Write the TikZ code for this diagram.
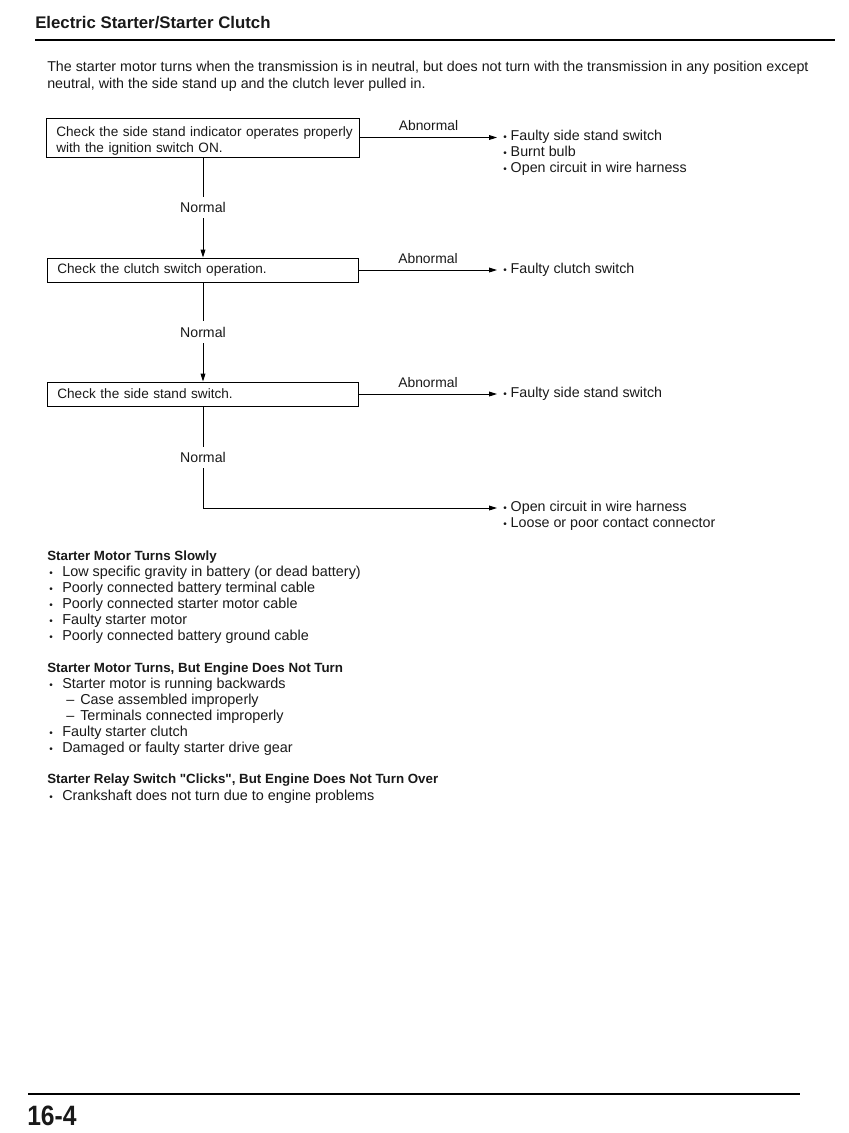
\documentclass[tikz,border=0pt]{standalone}
\usepackage{graphicx}
\usepackage{fontspec}
\setmainfont{Liberation Sans}
\newfontfamily\qfont[Ligatures=TeXOff]{Liberation Sans}
\usetikzlibrary{arrows.meta}
\newcommand\bu{{\fontsize{7.5}{7.5}\selectfont\textbullet}}
\newcommand\lbu{\makebox[9.75pt][l]{\bu}}
\newcommand\ldash{\makebox[10.5pt][l]{–}}
\newcommand\ind{\hspace*{7.4pt}}
\begin{document}
\begin{tikzpicture}[x=0.75pt,y=-0.75pt,
  every node/.style={font=\fontsize{10.7}{12}\selectfont, inner sep=0pt, text=black!90},
  txt/.style={anchor=base west},
  head/.style={anchor=base west, font=\fontsize{10}{12}\selectfont\bfseries},
  box/.style={draw, line width=0.7pt, align=left, inner xsep=0pt, inner ysep=0pt, anchor=center,
    font=\fontsize{10.2}{12}\selectfont},
  res/.style={anchor=west, inner xsep=4.5pt, inner ysep=0pt, text height=7.5pt, text depth=2.4pt},
  conn/.style={line width=0.75pt},
  arr/.style={conn, -{Triangle[length=6pt,width=3.6pt]}},
  lbl/.style={midway, above=4.5pt, font=\fontsize{10.4}{12}\selectfont},
  nlbl/.style={fill=white, inner xsep=2pt, inner ysep=4pt, font=\fontsize{10.6}{12}\selectfont}
]
\useasboundingbox (0,0) rectangle (849,1133);

% header
\node[anchor=base west, font=\fontsize{12.6}{14}\selectfont\bfseries] (title) at (35,28) {Electric Starter/Starter Clutch};
\draw[line width=1.9pt] (35,40) -- (835,40);
\node[txt] (intro1) at (47,71) {The starter motor turns when the transmission is in neutral, but does not turn with the transmission in any position except};
\node[txt] (intro2) at (47,88) {neutral, with the side stand up and the clutch lever pulled in.};

% boxes
\node[box, text width=234.75pt, minimum height=29.25pt] (b1) at (203,137.5) {\rule{0pt}{12pt}\ind Check the side stand indicator operates properly\\\ind with the ignition switch ON.};
\node[box, text width=233.25pt, minimum height=18pt] (b2) at (203,270) {\ind Check the clutch switch operation.};
\node[box, text width=233.25pt, minimum height=18pt] (b3) at (203,394) {\ind Check the side stand switch.};

% results
\node[res] (r1a) at (497,137.5) {\bu\ Faulty side stand switch};
\node[res] (r1b) at (497,153) {\bu\ Burnt bulb};
\node[res] (r1c) at (497,169) {\bu\ Open circuit in wire harness};
\node[res] (r2) at (497,270) {\bu\ Faulty clutch switch};
\node[res] (r3) at (497,394) {\bu\ Faulty side stand switch};
\node[res] (r4a) at (497,508) {\bu\ Open circuit in wire harness};
\node[res] (r4b) at (497,524) {\bu\ Loose or poor contact connector};

% connectors
\draw[arr] (b1.east) -- node[lbl] (ab1) {Abnormal} (r1a.west);
\draw[arr] (b2.east) -- node[lbl] (ab2) {Abnormal} (r2.west);
\draw[arr] (b3.east) -- node[lbl] (ab3) {Abnormal} (r3.west);
\draw[arr] (b1.south) -- node[nlbl] (n1) {Normal} (b2.north);
\draw[arr] (b2.south) -- node[nlbl] (n2) {Normal} (b3.north);
\draw[arr] (b3.south) |- node[nlbl, pos=0.25] (n3) {Normal} (r4a.west);

% lists
\begin{scope}[every node/.append style={font=\fontsize{10.8}{12}\selectfont}]
\node[head] (h1) at (47,560) {Starter Motor Turns Slowly};
\node[txt] (l11) at (49,576) {\lbu Low specific gravity in battery (or dead battery)};
\node[txt] (l12) at (49,592) {\lbu Poorly connected battery terminal cable};
\node[txt] (l13) at (49,608) {\lbu Poorly connected starter motor cable};
\node[txt] (l14) at (49,624) {\lbu Faulty starter motor};
\node[txt] (l15) at (49,640) {\lbu Poorly connected battery ground cable};

\node[head] (h2) at (47,672) {Starter Motor Turns, But Engine Does Not Turn};
\node[txt] (l21) at (49,688) {\lbu Starter motor is running backwards};
\node[txt] (l22) at (66,704) {\ldash Case assembled improperly};
\node[txt] (l23) at (66,720) {\ldash Terminals connected improperly};
\node[txt] (l24) at (49,736) {\lbu Faulty starter clutch};
\node[txt] (l25) at (49,752) {\lbu Damaged or faulty starter drive gear};

\node[head, font=\fontsize{10}{12}\selectfont\qfont\bfseries] (h3) at (47,783) {Starter Relay Switch "Clicks", But Engine Does Not Turn Over};
\node[txt] (l31) at (49,800) {\lbu Crankshaft does not turn due to engine problems};
\end{scope}

% footer
\draw[line width=1.9pt] (28,1094) -- (800,1094);
\node[anchor=base west, font=\fontsize{21}{22}\selectfont\bfseries] (page) at (27,1125) {\scalebox{0.88}[1]{16-4}};
\end{tikzpicture}
\end{document}
